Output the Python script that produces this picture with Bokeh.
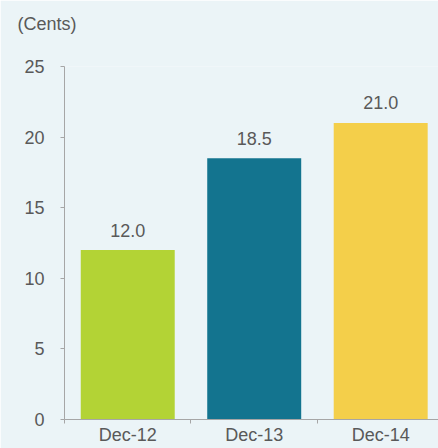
from bokeh.plotting import figure
from bokeh.models import FixedTicker, ColumnDataSource, Title
from bokeh.embed import file_html
from bokeh.resources import INLINE
from bokeh.core.properties import value

categories = ["Dec-12", "Dec-13", "Dec-14"]
values = [12.0, 18.5, 21.0]
value_labels = ["12.0", "18.5", "21.0"]
colors = ["#B3D335", "#13748F", "#F4CF4A"]
y_ticks = [0, 5, 10, 15, 20, 25]
unit_label = "(Cents)"

BG = "#EBF4F7"
TXT = "#595959"
AX = "#A6A6A6"
FONT = "Liberation Sans"

xs = [i + 0.5 for i in range(len(categories))]
src = ColumnDataSource(dict(x=xs, top=values, color=colors, label=value_labels))

p = figure(width=438, height=448, x_range=(0, 2.957), y_range=(0, 25),
           output_backend="svg", toolbar_location=None,
           min_border_left=64, min_border_right=0, min_border_top=66, min_border_bottom=29,
           background_fill_color=BG, border_fill_color=BG, outline_line_color=None)

p.vbar(x="x", top="top", bottom=0, width=0.743, fill_color="color", line_color=None, source=src)
p.text(x="x", y="top", text="label", source=src, text_align="center", text_baseline="alphabetic",
       y_offset=-20, text_font=value(FONT), text_font_size="18px", text_color=TXT)

p.xgrid.visible = False
p.ygrid.visible = False

# x axis
xa = p.xaxis[0]
xa.ticker = FixedTicker(ticks=xs, minor_ticks=list(range(len(categories) + 1)))
xa.major_label_overrides = {x: c for x, c in zip(xs, categories)}
xa.major_tick_out = 0
xa.major_tick_in = 0
xa.minor_tick_out = 0
xa.minor_tick_in = -4
xa.minor_tick_line_color = AX
xa.axis_line_color = AX
xa.major_label_standoff = 5
xa.major_label_text_font = FONT
xa.major_label_text_font_size = "18px"
xa.major_label_text_color = TXT

# y axis
ya = p.yaxis[0]
ya.ticker = FixedTicker(ticks=y_ticks, minor_ticks=[])
ya.major_tick_out = 4
ya.major_tick_in = 0
ya.major_tick_line_color = AX
ya.axis_line_color = AX
ya.major_label_standoff = 16
ya.major_label_text_font = FONT
ya.major_label_text_font_size = "18px"
ya.major_label_text_color = TXT

# spacer between the frame and the unit title
p.add_layout(Title(text=" ", standoff=0, text_font=FONT, text_font_size="18px"), "above")

p.title.text = unit_label
p.title.align = "left"
p.title.vertical_align = "top"
p.title.offset = -47
p.title.standoff = 18
p.title.text_font = FONT
p.title.text_font_size = "18px"
p.title.text_font_style = "normal"
p.title.text_color = TXT

open("out.html", "w").write(file_html(p, INLINE))
